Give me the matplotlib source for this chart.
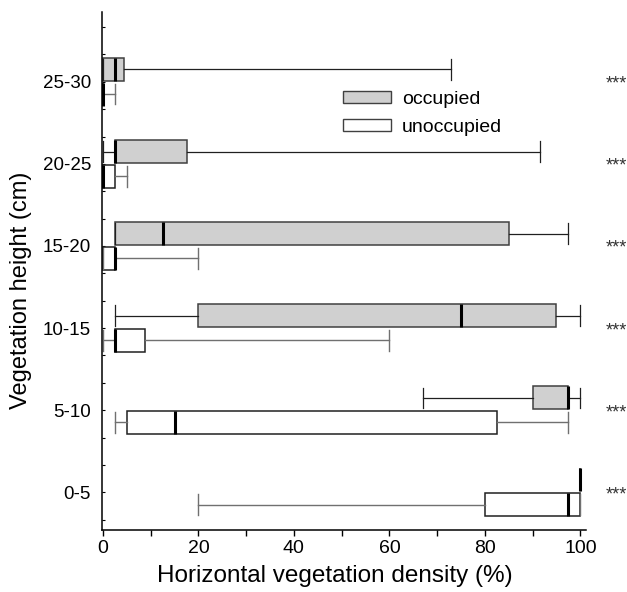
import numpy as np
import matplotlib
matplotlib.use("Agg")
import matplotlib.pyplot as plt
from matplotlib.patches import Patch
from matplotlib.ticker import MultipleLocator

plt.rcParams['font.family'] = ['Liberation Sans', 'DejaVu Sans']

heights = ["0-5", "5-10", "10-15", "15-20", "20-25", "25-30"]

# whislo, q1, median, q3, whishi  (horizontal vegetation density, %)
occ_lo = [100, 67, 2.5, 2.5, 0, 0]
occ_q1 = [100, 90, 20, 2.5, 2.5, 0]
occ_med = [100, 97.5, 75, 12.5, 2.5, 2.5]
occ_q3 = [100, 97.5, 95, 85, 17.5, 4.5]
occ_hi = [100, 100, 100, 97.5, 91.5, 73]

un_lo = [20, 2.5, 0, 0, 0, 0]
un_q1 = [80, 5, 2.5, 0, 0, 0]
un_med = [97.5, 15, 2.5, 2.5, 0, 0]
un_q3 = [100, 82.5, 8.75, 2.5, 2.5, 0]
un_hi = [100, 97.5, 60, 20, 5, 2.5]

signif = ["***"] * 6


def make_stats(lo, q1, med, q3, hi):
    return [dict(whislo=a, q1=b, med=c, q3=d, whishi=e, fliers=[])
            for a, b, c, d, e in zip(lo, q1, med, q3, hi)]


fig = plt.figure(figsize=(6.27, 5.92), dpi=100)
ax = fig.add_axes([0.1627, 0.1047, 0.772, 0.875])

pos = np.arange(len(heights))
w = 0.28

ax.bxp(make_stats(occ_lo, occ_q1, occ_med, occ_q3, occ_hi),
       positions=pos + 0.15, widths=w, capwidths=w * 0.9,
       orientation='horizontal', patch_artist=True, showfliers=False,
       boxprops=dict(facecolor='#d0d0d0', edgecolor='#404040', linewidth=1.1),
       whiskerprops=dict(color='#202020', linewidth=0.9),
       capprops=dict(color='#202020', linewidth=0.9),
       medianprops=dict(color='black', linewidth=2.2, solid_capstyle='butt'))

ax.bxp(make_stats(un_lo, un_q1, un_med, un_q3, un_hi),
       positions=pos - 0.15, widths=w, capwidths=w * 0.9,
       orientation='horizontal', patch_artist=True, showfliers=False,
       boxprops=dict(facecolor='white', edgecolor='#202020', linewidth=1.1),
       whiskerprops=dict(color='#707070', linewidth=1.0),
       capprops=dict(color='#707070', linewidth=1.0),
       medianprops=dict(color='black', linewidth=2.2, solid_capstyle='butt'))

for p, s in zip(pos, signif):
    ax.text(107.5, p - 0.03, s, ha='center', va='center', fontsize=13,
            color='#333333', clip_on=False)

ax.set_xlim(-0.2, 101.2)
ax.set_ylim(-0.46, 5.85)
ax.set_yticks(pos)
ax.set_yticklabels(heights)
ax.yaxis.set_minor_locator(MultipleLocator(1 / 3))
ax.set_xticks(np.arange(0, 101, 20))
ax.xaxis.set_minor_locator(MultipleLocator(10))
ax.tick_params(axis='x', which='both', direction='out', length=4, width=1,
               labelsize=14, pad=3)
ax.tick_params(axis='y', which='both', direction='in', length=2.5, width=0.8,
               labelsize=13.5, pad=8)

for sp in ['top', 'right']:
    ax.spines[sp].set_visible(False)
for sp in ['left', 'bottom']:
    ax.spines[sp].set_linewidth(1.1)

ax.set_xlabel("Horizontal vegetation density (%)", fontsize=17.5)
ax.xaxis.set_label_coords(0.481, -0.068)
ax.set_ylabel("Vegetation height (cm)", fontsize=17)
ax.yaxis.set_label_coords(-0.145, 0.463)

handles = [Patch(facecolor='#d0d0d0', edgecolor='#404040', label='occupied'),
           Patch(facecolor='white', edgecolor='#404040', label='unoccupied')]
ax.legend(handles=handles, loc='upper left', bbox_to_anchor=(0.481, 0.863),
          frameon=False, fontsize=14, handlelength=2.5, handleheight=0.62,
          labelspacing=0.56, handletextpad=0.55, borderaxespad=0)

fig.savefig("out.png", dpi=100)
